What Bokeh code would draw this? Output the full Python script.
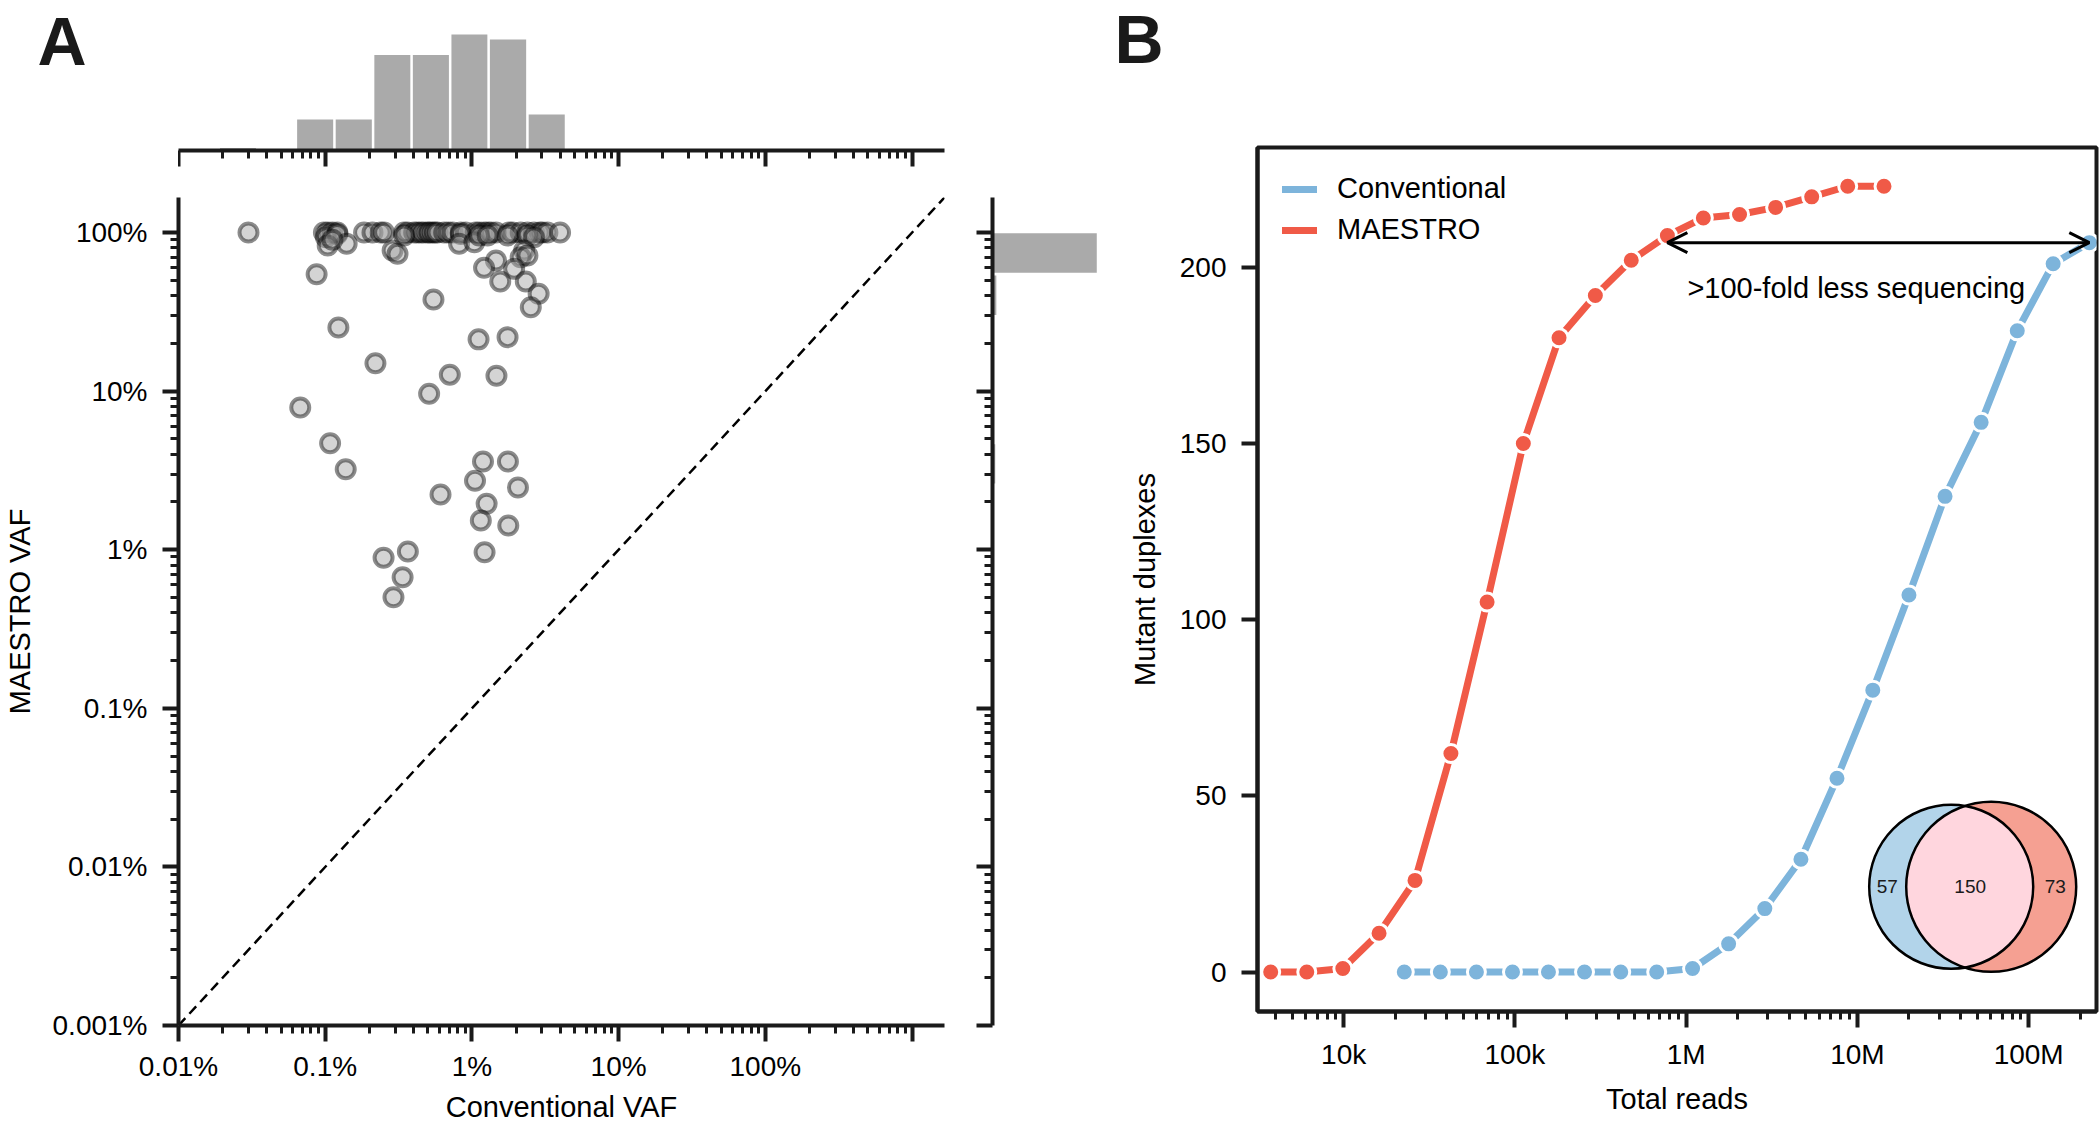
import math
from bokeh.plotting import figure
from bokeh.models import (FixedTicker, CustomJSTickFormatter, Label, Arrow, OpenHead,
                          Legend, LegendItem, Range1d)
from bokeh.core.properties import value
from bokeh.layouts import row, column
from bokeh.embed import file_html
from bokeh.resources import INLINE

FONT = "Liberation Sans"
INK = "#1a1a1a"

# ---------------- data: panel A ----------------
conv_vaf = [
    3.0e-4, 9.8e-4, 1.04e-3, 1.12e-3, 1.21e-3, 1.84e-3, 2.10e-3, 2.39e-3, 2.52e-3, 3.45e-3,
    3.64e-3, 4.04e-3, 4.25e-3, 4.48e-3, 4.70e-3, 4.99e-3, 5.15e-3, 5.40e-3, 5.60e-3, 5.83e-3,
    6.47e-3, 6.90e-3, 7.38e-3, 8.40e-3, 9.08e-3, 1.06e-2, 1.12e-2, 1.21e-2, 1.28e-2, 1.35e-2,
    1.46e-2, 1.79e-2, 1.89e-2, 2.15e-2, 2.39e-2, 2.65e-2, 2.90e-2, 3.03e-2, 3.27e-2, 3.99e-2,
    1.01e-3, 1.21e-3, 1.04e-3, 1.40e-3, 1.12e-3, 3.45e-3, 2.88e-3, 3.11e-3, 8.40e-3, 8.18e-3,
    1.04e-2, 1.12e-2, 1.28e-2, 1.75e-2, 2.39e-2, 2.65e-2, 2.27e-2, 2.15e-2, 2.39e-2,
    1.46e-2, 1.21e-2, 1.94e-2, 1.56e-2, 2.33e-2, 2.85e-2, 2.52e-2, 5.47e-3, 8.74e-4, 1.23e-3,
    1.11e-2, 1.75e-2, 2.20e-3, 7.07e-3, 1.47e-2, 5.11e-3, 6.76e-4, 1.08e-3, 1.38e-3, 1.19e-2,
    1.76e-2, 1.05e-2, 2.06e-2, 6.11e-3, 1.26e-2, 1.15e-2, 1.77e-2, 2.50e-3, 3.66e-3, 1.22e-2,
    3.37e-3, 2.92e-3,
]
maestro_vaf = [
    1.0, 1.0, 1.0, 1.0, 1.0, 1.0, 1.0, 1.0, 1.0, 1.0,
    1.0, 1.0, 1.0, 1.0, 1.0, 1.0, 1.0, 1.0, 1.0, 1.0,
    1.0, 1.0, 1.0, 1.0, 1.0, 1.0, 1.0, 1.0, 1.0, 1.0,
    1.0, 1.0, 1.0, 1.0, 1.0, 1.0, 1.0, 1.0, 1.0, 1.0,
    0.934, 0.98, 0.828, 0.849, 0.90, 0.957, 0.77, 0.734, 0.98, 0.849,
    0.869, 0.957, 0.957, 0.957, 0.957, 0.934, 0.77, 0.699, 0.716,
    0.666, 0.599, 0.590, 0.491, 0.491, 0.411, 0.338, 0.378, 0.546, 0.252,
    0.212, 0.219, 0.150, 0.127, 0.125, 0.0962, 0.0788, 0.0469, 0.0322, 0.036,
    0.036, 0.0272, 0.0247, 0.0223, 0.0195, 0.0153, 0.0142, 0.00889, 0.00975, 0.00964,
    0.00671, 0.00502,
]

top_hist_edges = [1.88e-4, 3.44e-4, 6.31e-4, 1.156e-3, 2.12e-3, 3.88e-3, 7.11e-3, 1.30e-2, 2.39e-2, 4.38e-2]
top_hist_counts = [1, 0, 12, 12, 37, 37, 45, 43, 14]
right_hist_edges = [1.010, 0.547, 0.2965, 0.1607, 0.0871, 0.0472, 0.0256, 0.01387, 0.00752, 0.00407]
right_hist_counts = [190, 7, 0, 2, 0, 5, 2, 2, 0]

a_x_ticks = [1e-4, 1e-3, 1e-2, 1e-1, 1.0, 10.0]
a_x_labels = ["0.01%", "0.1%", "1%", "10%", "100%", ""]
a_y_ticks = [1e-5, 1e-4, 1e-3, 1e-2, 1e-1, 1.0]
a_y_labels = ["0.001%", "0.01%", "0.1%", "1%", "10%", "100%"]

# ---------------- data: panel B ----------------
maestro_reads = [3750, 6090, 9890, 16100, 26100, 42300, 68800, 112000, 181000, 295000,
                 478000, 777000, 1260000, 2050000, 3330000, 5410000, 8780000, 14300000]
maestro_dup = [0, 0, 1, 11, 26, 62, 105, 150, 180, 192, 202, 209, 214, 215, 217, 220, 223, 223]
conv_reads = [22600, 36700, 59600, 96800, 157000, 255000, 415000, 673000, 1090000, 1770000,
              2880000, 4680000, 7600000, 12300000, 20000000, 32500000, 52800000, 85800000,
              139000000, 226000000]
conv_dup = [0, 0, 0, 0, 0, 0, 0, 0, 1, 8, 18, 32, 55, 80, 107, 135, 156, 182, 201, 207]

b_x_ticks = [1e4, 1e5, 1e6, 1e7, 1e8]
b_x_labels = ["10k", "100k", "1M", "10M", "100M"]
b_y_ticks = [0, 50, 100, 150, 200]

venn_counts = [57, 150, 73]
panel_letters = ["A", "B"]

RED = "#F05A47"
BLUE = "#7DB4DB"


def minor_list(lo_exp, hi_exp):
    return [k * 10.0 ** e for e in range(lo_exp, hi_exp + 1) for k in range(2, 10)]


def fmt(ticks, labels):
    return CustomJSTickFormatter(args=dict(tv=ticks, tl=labels), code="""
        const lt = Math.log10(tick);
        for (let i = 0; i < tv.length; i++) {
            if (Math.abs(Math.log10(tv[i]) - lt) < 1e-6) { return tl[i]; }
        }
        return "";
    """)


def style_axis(ax):
    ax.axis_line_width = 4
    ax.axis_line_color = INK
    ax.major_tick_line_width = 4
    ax.minor_tick_line_width = 3
    ax.major_tick_line_color = INK
    ax.minor_tick_line_color = INK
    ax.major_tick_out = 16
    ax.major_tick_in = 0
    ax.minor_tick_out = 8
    ax.minor_tick_in = 0
    ax.major_label_text_font = FONT
    ax.major_label_text_font_size = "28px"
    ax.major_label_text_color = "black"
    ax.axis_label_text_font = FONT
    ax.axis_label_text_font_size = "29px"
    ax.axis_label_text_font_style = "normal"
    ax.axis_label_text_color = "black"


def letter_canvas(w, h, letter, x, y, **borders):
    f = figure(width=w, height=h, x_range=Range1d(0, w), y_range=Range1d(0, h - borders.get("min_border_bottom", 0)),
               x_axis_location=None, y_axis_location=None, output_backend="svg",
               toolbar_location=None, min_border_left=0, min_border_right=0,
               min_border_top=0, **borders)
    f.grid.visible = False
    f.outline_line_color = None
    f.text(x=[x], y=[y], text=[letter], text_font=value(FONT),
           text_font_size="68px", text_font_style="bold", text_color=INK,
           text_baseline="alphabetic", text_align="left")
    return f


# shared ranges for panel A
AXR = (1e-4, 16.65)
AYR = (1e-5, 1.663)
ax_range = Range1d(*AXR)
ay_range = Range1d(*AYR)

# ---------------- main scatter A ----------------
pA = figure(width=964, height=953, x_axis_type="log", y_axis_type="log",
            x_range=ax_range, y_range=ay_range, output_backend="svg",
            toolbar_location=None, min_border_left=178, min_border_right=20,
            min_border_top=25, min_border_bottom=99)
pA.grid.visible = False
pA.outline_line_color = None
for ax in (pA.xaxis[0], pA.yaxis[0]):
    style_axis(ax)
pA.xaxis.ticker = FixedTicker(ticks=a_x_ticks, minor_ticks=minor_list(-4, 0))
pA.yaxis.ticker = FixedTicker(ticks=a_y_ticks, minor_ticks=minor_list(-5, -1))
pA.xaxis.formatter = fmt(a_x_ticks, a_x_labels)
pA.yaxis.formatter = fmt(a_y_ticks, a_y_labels)
pA.xaxis.axis_label = "Conventional VAF"
pA.yaxis.axis_label = "MAESTRO VAF"
pA.xaxis.major_label_standoff = 9
pA.xaxis.axis_label_standoff = 6
pA.yaxis.major_label_standoff = 15
pA.yaxis.axis_label_standoff = 14

pA.line(list(AXR), list(AYR), line_color="black", line_width=2.5, line_dash="10 6")
pA.scatter(conv_vaf, maestro_vaf, size=18, fill_color="#a0a0a0", fill_alpha=0.45,
           line_color="black", line_alpha=0.45, line_width=4)

# ---------------- top histogram (frame reaches the top of the canvas) ----------------
GAP = 1.02
TOP_H, TOP_BOT = 172, 22
TOP_FRAME = TOP_H - TOP_BOT          # 150 px
ph = figure(width=786, height=TOP_H, x_axis_type="log", x_range=ax_range,
            y_range=Range1d(0, 50 * TOP_FRAME / 129), output_backend="svg",
            toolbar_location=None, min_border_left=0, min_border_right=20,
            min_border_top=0, min_border_bottom=TOP_BOT)
ph.grid.visible = False
ph.outline_line_color = None
ph.yaxis.visible = False
style_axis(ph.xaxis[0])
ph.xaxis.ticker = FixedTicker(ticks=a_x_ticks, minor_ticks=minor_list(-4, 0))
ph.xaxis.major_label_text_font_size = "1px"
ph.xaxis.major_label_text_alpha = 0
ph.xaxis.major_label_standoff = 0
ph.quad(left=[e * GAP for e in top_hist_edges[:-1]], right=[e / GAP for e in top_hist_edges[1:]],
        bottom=0, top=top_hist_counts, fill_color="#aaaaaa", line_color=None)

fA = letter_canvas(178, TOP_H, panel_letters[0], 37, TOP_FRAME - 40, min_border_bottom=TOP_BOT)

# ---------------- right histogram ----------------
pr = figure(width=148, height=953, y_axis_type="log", y_range=ay_range,
            x_range=Range1d(0, 215), output_backend="svg", toolbar_location=None,
            min_border_left=28, min_border_right=2, min_border_top=25, min_border_bottom=99)
pr.grid.visible = False
pr.outline_line_color = None
pr.xaxis.visible = False
style_axis(pr.yaxis[0])
pr.yaxis.ticker = FixedTicker(ticks=a_y_ticks, minor_ticks=minor_list(-5, -1))
pr.yaxis.major_label_text_font_size = "1px"
pr.yaxis.major_label_text_alpha = 0
pr.yaxis.major_label_standoff = 0
pr.quad(left=0, right=right_hist_counts, top=[e / GAP for e in right_hist_edges[:-1]],
        bottom=[e * GAP for e in right_hist_edges[1:]], fill_color="#aaaaaa", line_color=None)

# ---------------- panel B ----------------
BX = (3140, 2.49e8)
BY = (-11.2, 234)
LET_H = 100
B_W, B_H = 988, 1125 - LET_H
B_L, B_R, B_T, B_B = 145, 4, 147 - LET_H, 114
pB = figure(width=B_W, height=B_H, x_axis_type="log", x_range=Range1d(*BX),
            y_range=Range1d(*BY), output_backend="svg", toolbar_location=None,
            min_border_left=B_L, min_border_right=B_R, min_border_top=B_T, min_border_bottom=B_B)
pB.grid.visible = False
pB.outline_line_color = INK
pB.outline_line_width = 4
for ax in (pB.xaxis[0], pB.yaxis[0]):
    style_axis(ax)
pB.xaxis.ticker = FixedTicker(ticks=b_x_ticks, minor_ticks=minor_list(3, 8))
pB.xaxis.formatter = fmt(b_x_ticks, b_x_labels)
pB.yaxis.ticker = FixedTicker(ticks=b_y_ticks, minor_ticks=[])
pB.xaxis.axis_label = "Total reads"
pB.yaxis.axis_label = "Mutant duplexes"
pB.xaxis.major_label_standoff = 11
pB.xaxis.axis_label_standoff = 10
pB.yaxis.major_label_standoff = 15
pB.yaxis.axis_label_standoff = 16

l_conv = pB.line(conv_reads, conv_dup, line_color=BLUE, line_width=7, line_cap="round")
l_mae = pB.line(maestro_reads, maestro_dup, line_color=RED, line_width=7, line_cap="round")
pB.scatter(conv_reads, conv_dup, size=18, fill_color=BLUE, line_color="white", line_width=3)
pB.scatter(maestro_reads, maestro_dup, size=18, fill_color=RED, line_color="white", line_width=3)

legend = Legend(items=[LegendItem(label="Conventional", renderers=[l_conv]),
                       LegendItem(label="MAESTRO", renderers=[l_mae])],
                location="top_left", label_text_font=FONT, label_text_font_size="29px",
                label_text_color="black", glyph_width=35, glyph_height=30, label_height=30,
                spacing=8, padding=0, margin=25, label_standoff=20,
                border_line_color=None, background_fill_alpha=0)
pB.add_layout(legend)

arrow_y = conv_dup[-1]
pB.add_layout(Arrow(start=OpenHead(size=20, line_width=3, line_color="black"),
                    end=OpenHead(size=20, line_width=3, line_color="black"),
                    x_start=maestro_reads[11], y_start=arrow_y,
                    x_end=conv_reads[-1], y_end=arrow_y,
                    line_width=3, line_color="black"))
pB.add_layout(Label(x=maestro_reads[11], y=arrow_y, x_offset=20, y_offset=-45,
                    text=">100-fold less sequencing", text_font=FONT, text_font_size="29px",
                    text_color="black", text_baseline="alphabetic"))

# Venn inset (pixel geometry converted through the axis scales)
FW = B_W - B_L - B_R
FH = B_H - B_T - B_B
Dx = FW / (math.log10(BX[1]) - math.log10(BX[0]))
Dy = FH / (BY[1] - BY[0])
vc_x, vc_y = 3.53e7, 24.2
r_b, r_r, dd = 82.0, 85.0, 40.0


def to_data(px, py, cx=vc_x, cy=vc_y):
    return 10 ** (math.log10(cx) + px / Dx), cy + py / Dy


red_cx, _ = to_data(dd, 0)
pB.scatter([vc_x], [vc_y], size=2 * r_b, fill_color="#B2D4EA", line_color=None)
pB.scatter([red_cx], [vc_y], size=2 * r_r, fill_color="#F5A092", line_color=None)
aa = (dd * dd + r_b * r_b - r_r * r_r) / (2 * dd)
hh = math.sqrt(r_b * r_b - aa * aa)
t1 = math.atan2(hh, aa)
t2 = math.atan2(hh, dd - aa)
lens = []
N = 60
for i in range(N + 1):
    t = -t1 + 2 * t1 * i / N
    lens.append(to_data(r_b * math.cos(t), r_b * math.sin(t)))
for i in range(N + 1):
    t = math.pi - t2 + 2 * t2 * i / N
    lens.append(to_data(dd + r_r * math.cos(t), r_r * math.sin(t)))
pB.patch([p[0] for p in lens], [p[1] for p in lens], fill_color="#FFD6DE", line_color=None)
pB.scatter([vc_x], [vc_y], size=2 * r_b, fill_color=None, line_color="black", line_width=2.5)
pB.scatter([red_cx], [vc_y], size=2 * r_r, fill_color=None, line_color="black", line_width=2.5)
venn_px = [-64, 19, 104]
vt = [to_data(px, 0) for px in venn_px]
pB.text(x=[v[0] for v in vt], y=[v[1] for v in vt], text=[str(c) for c in venn_counts],
        text_font=value(FONT), text_font_size="19px", text_align="center",
        text_baseline="middle", text_color=INK)

fB = letter_canvas(B_W, LET_H, panel_letters[1], 2, LET_H - 40)

layout = row(column(row(fA, ph), row(pA, pr)), column(row(fB), pB))
open("out.html", "w").write(file_html(layout, INLINE))
